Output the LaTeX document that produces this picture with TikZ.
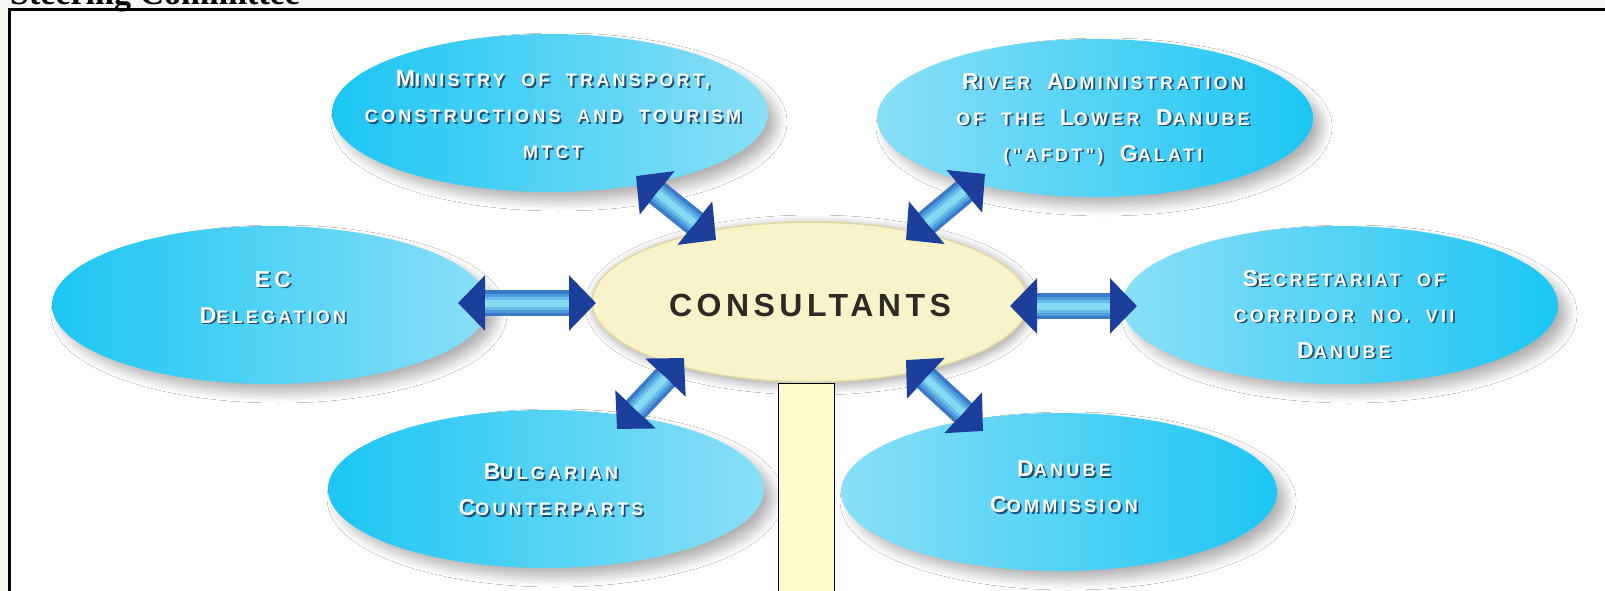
\documentclass[tikz,border=0pt]{standalone}
\usepackage{fontspec}
\setmainfont{Liberation Sans}
\usetikzlibrary{shapes.geometric,arrows.meta,shadows.blur}
\newfontfamily\labfont[LetterSpace=18,WordSpace=2]{Liberation Sans}
\newfontfamily\consfont[LetterSpace=14]{Liberation Sans}
\newfontfamily\titlefont{Liberation Serif}
\definecolor{cyanA}{HTML}{1CC6F4}
\definecolor{cyanB}{HTML}{8ADFF7}
\definecolor{consfill}{HTML}{F8F3C9}
\definecolor{consedge}{HTML}{E2D8A6}
\definecolor{arrhead}{HTML}{1C3F9C}
\definecolor{arrshaft}{HTML}{3A78C8}
\definecolor{arrmidA}{HTML}{4E9ADA}
\definecolor{arrmidB}{HTML}{66BCE8}
\definecolor{arrhi}{HTML}{86D8F3}
\definecolor{tshadow}{HTML}{1D4E78}
\definecolor{topstrip}{HTML}{F4F5F7}
\definecolor{leftstrip}{HTML}{F8F6E6}
\definecolor{boxfill}{HTML}{FFFDD0}
\newcommand\Bc[1]{{\fontsize{23}{36}\selectfont #1}}
\newcommand\Sc[1]{{\fontsize{18}{36}\selectfont #1}}
\newcommand\tsh[1]{\makebox[0pt][l]{\kern1.8pt\raisebox{-1.8pt}{\color{tshadow}#1}}#1}
\tikzset{
  ell/.style={ellipse, minimum width=436pt, minimum height=158pt, inner sep=0pt,
    blur shadow={shadow xshift=9pt, shadow yshift=-9pt, shadow blur radius=10pt, shadow blur steps=12, shadow opacity=30}},
  leftell/.style={ell, left color=cyanA, right color=cyanB},
  rightell/.style={ell, left color=cyanB, right color=cyanA},
  lab/.style={align=center, text=white, font=\labfont\bfseries\fontsize{18}{36}\selectfont, inner sep=0pt},
  dbl/.style={line width=26pt, color=arrshaft,
    {Triangle[width=54pt,length=27pt,color=arrhead]}-{Triangle[width=54pt,length=27pt,color=arrhead]}},
  shaftA/.style={line width=19pt, color=arrmidA, shorten <=27pt, shorten >=27pt},
  shaftB/.style={line width=13pt, color=arrmidB, shorten <=27pt, shorten >=27pt},
  shaftC/.style={line width=7pt, color=arrhi, shorten <=27pt, shorten >=27pt},
}
\begin{document}
\begin{tikzpicture}[x=1pt,y=-1pt]
\useasboundingbox (0,0) rectangle (1605,591);
\fill[white] (0,0) rectangle (1605,591);
\fill[topstrip] (0,0) rectangle (1605,8);
\fill[leftstrip] (0,8) rectangle (8,591);
\node[anchor=base west, inner sep=0pt, font=\titlefont\bfseries\fontsize{34}{34}\selectfont] (title) at (10,5) {Steering Committee};
\draw[line width=3pt] (1620,9.5) -- (9.5,9.5) -- (9.5,610);

% ellipses
\node[leftell] (mtct) at (550,113) {};
\node[rightell] (river) at (1095,118) {};
\node[leftell] (ec) at (270,305) {};
\node[rightell] (secr) at (1340,305) {};
\node[leftell] (bulg) at (546,489) {};
\node[rightell] (danc) at (1059,492) {};
\node[ellipse, minimum width=436pt, minimum height=160pt, inner sep=0pt, fill=consfill, draw=consedge, line width=1.5pt,
  blur shadow={shadow xshift=3pt, shadow yshift=-3pt, shadow blur radius=10pt, shadow blur steps=12, shadow opacity=40}] (cons) at (810,302) {};

% arrows
\coordinate (a1s) at (636,176); \coordinate (a1e) at (716,240);
\coordinate (a2s) at (985,174); \coordinate (a2e) at (906,240);
\coordinate (a3s) at (458,303); \coordinate (a3e) at (596,303);
\coordinate (a4s) at (1010,306); \coordinate (a4e) at (1137,306);
\coordinate (a5s) at (684,358); \coordinate (a5e) at (617,429);
\coordinate (a6s) at (906,360); \coordinate (a6e) at (983,431);
\foreach \i in {1,...,6}{
  \draw[dbl] (a\i s) -- (a\i e);
  \draw[shaftA] (a\i s) -- (a\i e);
  \draw[shaftB] (a\i s) -- (a\i e);
  \draw[shaftC] (a\i s) -- (a\i e);
}

% texts
\node[lab] (tmtct) at (553,116) {\tsh{\Bc{M}\Sc{INISTRY OF TRANSPORT,}}\\\tsh{\Sc{CONSTRUCTIONS AND TOURISM}}\\\tsh{\Sc{MTCT}}};
\node[lab] (triver) at (1103,120) {\tsh{\Bc{R}\Sc{IVER} \Bc{A}\Sc{DMINISTRATION}}\\\tsh{\Sc{OF THE} \Bc{L}\Sc{OWER} \Bc{D}\Sc{ANUBE}}\\\tsh{\Sc{("AFDT")} \Bc{G}\Sc{ALATI}}};
\node[lab] (tec) at (273,298) {\tsh{\Bc{EC}}\\\tsh{\Bc{D}\Sc{ELEGATION}}};
\node[lab] (tsecr) at (1344,315) {\tsh{\Bc{S}\Sc{ECRETARIAT OF}}\\\tsh{\Sc{CORRIDOR NO. VII}}\\\tsh{\Bc{D}\Sc{ANUBE}}};
\node[lab] (tbulg) at (551,491) {\tsh{\Bc{B}\Sc{ULGARIAN}}\\\tsh{\Bc{C}\Sc{OUNTERPARTS}}};
\node[lab] (tdanc) at (1064,488) {\tsh{\Bc{D}\Sc{ANUBE}}\\\tsh{\Bc{C}\Sc{OMMISSION}}};
\node[inner sep=0pt, text={black!90!olive}, font=\consfont\bfseries\fontsize{32}{32}\selectfont] (tcons) at (810,305) {CONSULTANTS};

% yellow box
\draw[fill=boxfill, line width=1.5pt] (778.5,383.5) rectangle (834.5,600);
\end{tikzpicture}
\end{document}
